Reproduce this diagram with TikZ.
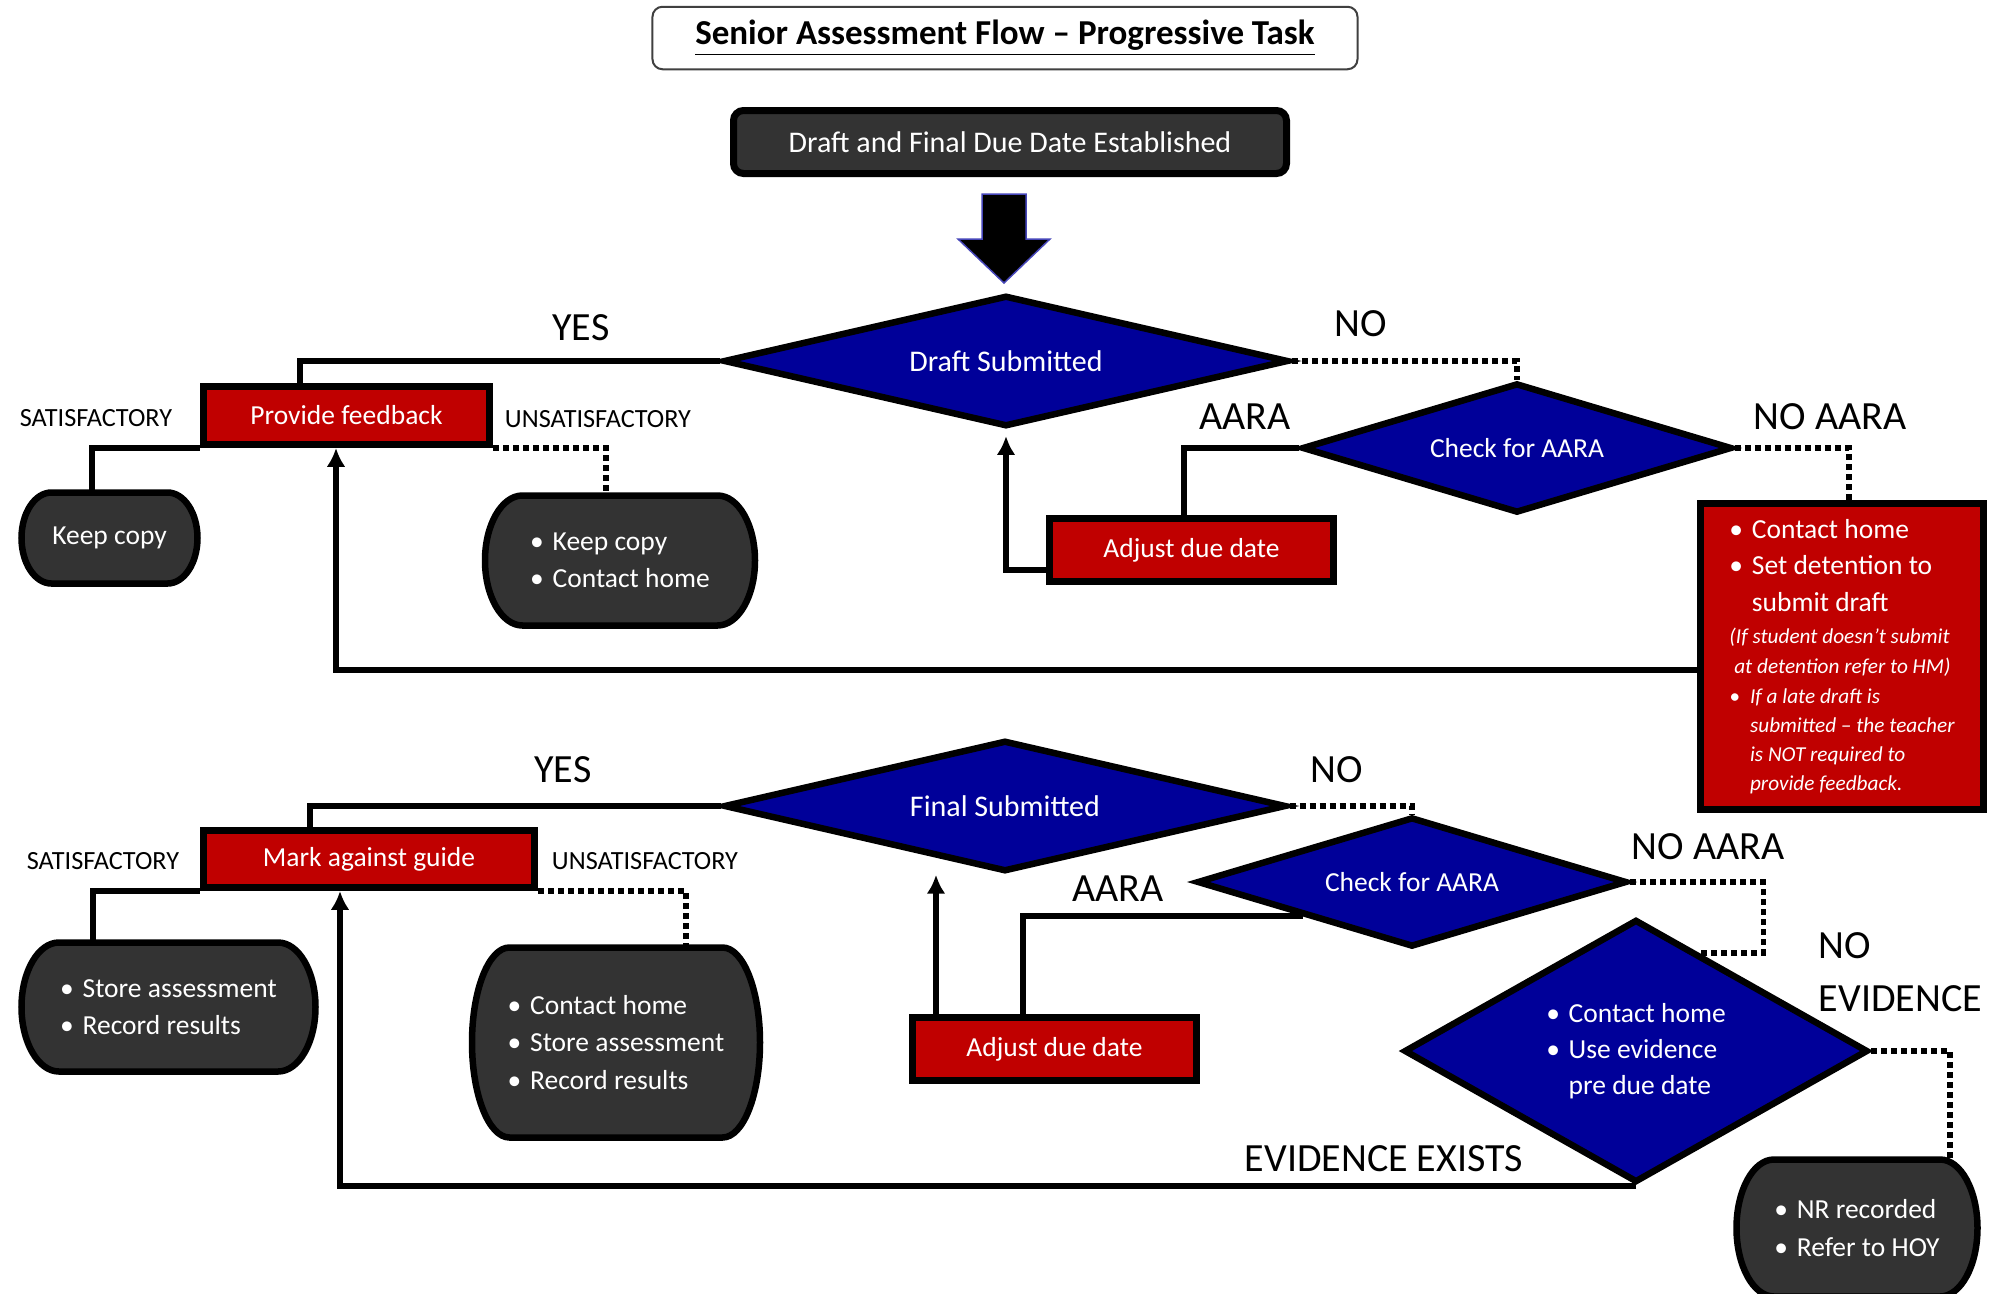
\documentclass[tikz,border=0pt]{standalone}
\usepackage{fontspec}
\setmainfont{Carlito}
\usepackage{xcolor}
\usetikzlibrary{calc, arrows.meta, shapes.geometric, backgrounds}

\definecolor{flowred}{HTML}{C00000}
\definecolor{flowblue}{HTML}{000099}
\definecolor{flowdark}{HTML}{333333}

\newcommand{\smit}{\fontsize{8.5}{12}\selectfont\itshape}
\newcommand{\bul}{\textbullet\hspace{3.5pt}}
% barrel outline behind a node: [x radius]{node}
\newcommand{\barrel}[2][15pt]{%
  \path[barrelfill] let \p1=(#2.north east), \p2=(#2.south west),
    \n1={(\y1-\y2)/2} in
    (\x2+#1,\y1) -- (\x1-#1,\y1)
    arc[start angle=90, end angle=-90, x radius=#1, y radius=\n1*1pt]
    -- (\x2+#1,\y2)
    arc[start angle=270, end angle=90, x radius=#1, y radius=\n1*1pt] -- cycle;}

\begin{document}
\begin{tikzpicture}[x=0.4pt, y=-0.4pt,
    every node/.style={font=\fontsize{11}{14.5}\selectfont},
    titlebox/.style={draw=black!75, line width=0.8pt, rounded corners=4pt,
                     minimum width=282pt, minimum height=25pt,
                     font=\fontsize{14}{17}\selectfont\bfseries},
    darkbox/.style={draw=black, line width=2.8pt, rounded corners=4pt,
                    fill=flowdark, text=white, minimum width=221.2pt,
                    minimum height=25.2pt, font=\fontsize{12}{14}\selectfont},
    redbox/.style={draw=black, line width=2.8pt, fill=flowred, text=white,
                   minimum height=23.2pt},
    decision/.style={diamond, draw=black, line width=2.6pt, fill=flowblue,
                     text=white, inner sep=0pt},
    term/.style={text=white, align=left, inner sep=2pt,
                 font=\fontsize{11}{15}\selectfont},
    barrelfill/.style={fill=flowdark, draw=black, line width=2.6pt},
    lab/.style={font=\fontsize{16}{21}\selectfont},
    smlab/.style={font=\fontsize{10.5}{12}\selectfont},
    conn/.style={line width=2.4pt},
    dotconn/.style={line width=2.2pt, dash pattern=on 2.4pt off 1.6pt},
    arr/.style={conn, -{Latex[length=7.5pt, width=7.5pt]}},
    bigarr/.style={fill=black, draw=blue!45!gray, line width=0.6pt},
  ]
  \path[use as bounding box] (0,0) rectangle (2002,1294);

  \node[titlebox] (title) at (1005,38) {\underline{Senior Assessment Flow – Progressive Task}};
  \node[darkbox] (due) at (1010,142) {Draft and Final Due Date Established};

  % draft stage
  \node[decision, minimum width=226pt, minimum height=52.5pt, shape aspect=4.3,
        font=\fontsize{12}{14}\selectfont] (draft) at (1006,361) {Draft Submitted};
  \node[decision, minimum width=172pt, minimum height=52pt, shape aspect=3.3] (check1) at (1517,448) {Check for AARA};
  \node[redbox, minimum width=114.4pt] (feedback) at (346.5,415.5) {Provide feedback};
  \node[term, minimum width=70pt, minimum height=36pt] (keepcopy) at (109.5,538) {Keep copy};
  \node[term, minimum width=107.6pt, minimum height=51.6pt] (keepcontact) at (620,560.5)
    {\bul Keep copy\\ \bul Contact home};
  \node[redbox, minimum width=113.6pt, minimum height=25.2pt] (adjust1) at (1191.5,550) {Adjust due date};
  \node[redbox, minimum width=113.2pt, minimum height=122.4pt, align=left] (nodraft) at (1842,656.5)
    {\textbullet\hspace{3.5pt}Contact home\\
     \textbullet\hspace{3.5pt}Set detention to\\
     \hphantom{\textbullet\hspace{3.5pt}}submit draft\\[-1.7pt]
     {\smit (If student doesn’t submit}\\[-2.5pt]
     {\smit \ at detention refer to HM)}\\[-2.5pt]
     {\smit \textbullet\hspace{4pt}If a late draft is}\\[-2.9pt]
     {\smit \hphantom{\textbullet\hspace{4pt}}submitted – the teacher}\\[-2.9pt]
     {\smit \hphantom{\textbullet\hspace{4pt}}is NOT required to}\\[-2.9pt]
     {\smit \hphantom{\textbullet\hspace{4pt}}provide feedback.}};

  % final stage
  \node[decision, minimum width=225pt, minimum height=52.5pt, shape aspect=4.3,
        font=\fontsize{12}{14}\selectfont] (final) at (1005,806) {Final Submitted};
  \node[redbox, minimum width=132.4pt, minimum height=22.8pt] (markguide) at (369,859) {Mark against guide};
  \node[term, minimum width=117.2pt, minimum height=51.2pt] (storerec) at (168.5,1007)
    {\bul Store assessment\\ \bul Record results};
  \node[term, minimum width=114.8pt, minimum height=75.6pt] (contstore) at (616,1042.5)
    {\bul Contact home\\ \bul Store assessment\\ \bul Record results};
  \node[redbox, minimum width=113.6pt, minimum height=25.2pt] (adjust2) at (1054.5,1049) {Adjust due date};
  \node[decision, minimum width=172pt, minimum height=52pt, shape aspect=3.3] (check2) at (1412,882) {Check for AARA};
  \node[decision, minimum width=185.6pt, minimum height=105.2pt, shape aspect=1.76, align=left] (evidence) at (1636,1051)
    {\bul Contact home\\ \bul Use evidence\\ \hphantom{\bul}pre due date};
  \node[term, minimum width=96pt, minimum height=54.4pt] (nrrec) at (1857,1228)
    {\bul NR recorded\\ \bul Refer to HOY};

  \begin{scope}[on background layer]
    \fill[white] (0,0) rectangle (2002,1294);
    \barrel[12pt]{keepcopy}
    \barrel{keepcontact}
    \barrel{storerec}
    \barrel{contstore}
    \barrel{nrrec}
  \end{scope}

  % labels
  \node[lab] (yes1) at (581,328) {YES};
  \node[lab] (no1) at (1361,324) {NO};
  \node[lab] (aara1) at (1245,417) {AARA};
  \node[lab] (noaara1) at (1830,417) {NO AARA};
  \node[smlab] (sat1) at (96,418) {SATISFACTORY};
  \node[smlab] (unsat1) at (598,419) {UNSATISFACTORY};
  \node[lab] (yes2) at (563,770) {YES};
  \node[lab] (no2) at (1337,770) {NO};
  \node[smlab] (sat2) at (103,861) {SATISFACTORY};
  \node[smlab] (unsat2) at (645,861) {UNSATISFACTORY};
  \node[lab] (aara2) at (1118,889) {AARA};
  \node[lab] (noaara2) at (1708,847) {NO AARA};
  \node[lab, align=left, anchor=west] (noevid) at (1810,972) {NO\\EVIDENCE};
  \node[lab] (evexists) at (1384,1159) {EVIDENCE EXISTS};

  % big arrow
  \coordinate (arrtop) at ($(due.south)+(-6,17)$);
  \filldraw[bigarr] ([xshift=-8.8pt]arrtop) -- ++(0,45) -- ++(-24,0) -- ++(46,44)
    -- ++(46,-44) -- ++(-24,0) -- ++(0,-45) -- cycle;

  % connectors, draft
  \draw[conn] (draft.west) -| ([xshift=-18.6pt]feedback.north);
  \draw[conn] (feedback.south west) -| ([xshift=-7pt]keepcopy.north);
  \draw[dotconn] (feedback.south east) -| ([xshift=-5.6pt]keepcontact.north);
  \draw[arr] ([yshift=-5.4pt]nodraft.west) -| ([xshift=-4.2pt]feedback.south);
  \draw[arr, shorten >=2.5pt] ([yshift=-8pt]adjust1.west) -| (draft.south);
  \draw[conn] (check1.west) -| ([xshift=-3pt]adjust1.north);
  \draw[dotconn] (draft.east) -| (check1.north);
  \draw[dotconn] (check1.east) -| ([xshift=2.8pt]nodraft.north);

  % connectors, final
  \draw[conn] (final.west) -| ([xshift=-23.6pt]markguide.north);
  \draw[conn] (markguide.south west) -| ([xshift=-30.2pt]storerec.north);
  \draw[dotconn] (markguide.south east) -| ([xshift=28pt]contstore.north);
  \draw[arr] (evidence.south) -| ([xshift=-11.6pt]markguide.south);
  \coordinate (adjup) at ([xshift=-47.4pt]adjust2.north);
  \draw[arr] (adjup) -- (adjup |- final.south);
  \draw[conn] (check2.south west) -| ([xshift=-12.6pt]adjust2.north);
  \draw[dotconn] (final.east) -| (check2.north);
  \coordinate (evtouch) at ($(evidence.north)!0.274!(evidence.east)$);
  \draw[dotconn] (check2.east) -- ++(133,0) |- (evtouch);
  \draw[dotconn] (evidence.east) -| ([xshift=37.2pt]nrrec.north);
\end{tikzpicture}
\end{document}
